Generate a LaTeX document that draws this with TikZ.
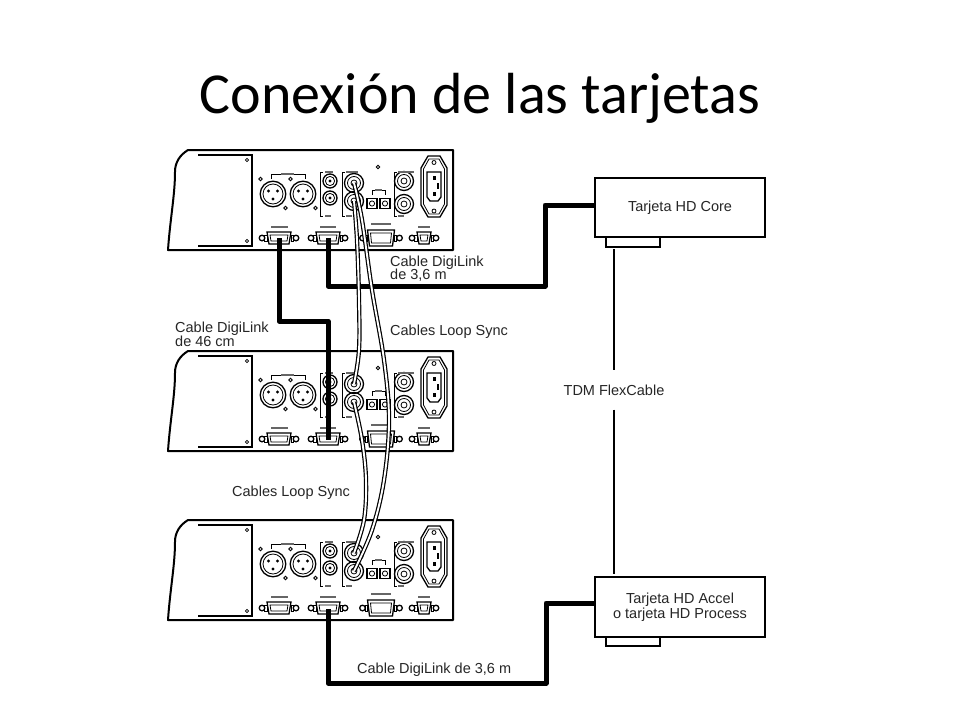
\documentclass[tikz,border=0pt]{standalone}
\usepackage{fontspec}
\setmainfont{Liberation Sans}
\newfontfamily\titlefont{Carlito}
\usetikzlibrary{shapes.geometric}
\newcommand\lblfont{\fontsize{14.5}{15}\selectfont}
\tikzset{
  chassis/.style={line width=2pt, line join=round},
  thinpart/.style={line width=1.3pt},
  hairpart/.style={line width=0.8pt},
  tinylabel/.style={fill=black!60},
  digi/.style={line width=5pt, line join=round},
  loopcable/.style={draw=black, double=white, line width=1.2pt, double distance=1.9pt},
  card/.style={draw, line width=2.4pt, minimum width=170pt, minimum height=59pt, align=center, font=\lblfont, inner sep=0pt, text=black!85},
  cardtab/.style={line width=1.4pt},
  tdmline/.style={line width=2.8pt},
  lbl/.style={font=\lblfont, inner sep=0pt, text=black!85}
}
\newcommand\dbport[4]{%
  \draw[thinpart] (#1-#2,#3) -- (#1+#2,#3) -- (#1+#2-2,#4) -- (#1-#2+2,#4) -- cycle;
  \draw[hairpart] (#1-#2+3,#3+3) -- (#1+#2-3,#3+3) -- (#1+#2-4,#4-3) -- (#1-#2+4,#4-3) -- cycle;
  \draw[thinpart] (#1-#2-5,{(#3+#4)/2}) circle (2.8) (#1+#2+5,{(#3+#4)/2}) circle (2.8);
  \draw[hairpart] (#1-#2-2.2,{(#3+#4)/2-3}) rectangle (#1-#2,{(#3+#4)/2+3});
  \draw[hairpart] (#1+#2,{(#3+#4)/2-3}) rectangle (#1+#2+2.2,{(#3+#4)/2+3});
}
\newcommand\devpanel[1]{%
\begin{scope}[shift={(0,#1)}]
  % chassis outline
  \draw[chassis] (168,100) .. controls (170,70) and (175,45) .. (175,22)
     .. controls (175,12) and (180,5) .. (188,0) -- (453,0) -- (453,100) -- cycle;
  % blank panel
  \draw[thinpart] (198,5) -- (252,5) -- (252,96) -- (198,96);
  \draw[hairpart] (247,10) circle (1.6) (247,91) circle (1.6);
  % XLR
  \foreach \x in {273,303} {
    \draw[thinpart] (\x,44) circle (12.8);
    \draw[hairpart] (\x,44) circle (10);
    \fill (\x-4.5,41) circle (1.6) (\x+4.5,41) circle (1.6) (\x,49) circle (1.6);
    \draw[hairpart] (\x-12.5,29) circle (1.8) (\x+12.5,58) circle (1.8);
  }
  \draw[hairpart] (271,29) -- (271,24) -- (305,24) -- (305,29);
  \fill[tinylabel] (281,22.6) rectangle (294,25.4);
  % RCA S/PDIF
  \foreach \yy in {31,48} {
    \draw[thinpart] (330,\yy) circle (7);
    \draw[hairpart] (330,\yy) circle (4.6);
    \fill (330,\yy) circle (1.6);
  }
  \draw[hairpart] (323,22) -- (320,22) -- (320,66) -- (323,66);
  \fill[tinylabel] (325,20.6) rectangle (333,23.4);
  \fill[tinylabel] (325,64.6) rectangle (331,67.4);
  % Loop sync BNC
  \foreach \yy in {33,51} {
    \draw[thinpart] (354,\yy) circle (9.5);
    \draw[hairpart] (354,\yy) circle (6.5);
    \draw[hairpart] (354,\yy) circle (3);
  }
  \draw[hairpart] (345,22) -- (342,22) -- (342,66) -- (345,66);
  \fill[tinylabel] (346,20.6) rectangle (358,23.4);
  \fill[tinylabel] (346,64.6) rectangle (352,67.4);
  \draw[hairpart] (378,17) circle (1.8);
  % optical
  \foreach \x in {372,385} {
    \draw[thinpart] (\x-5,48.5) rectangle (\x+5,58.5);
    \draw[hairpart] (\x,53.5) circle (2.6);
  }
  \draw[hairpart] (372,45) -- (372,40) -- (385,40) -- (385,45);
  \fill[tinylabel] (375,38.6) rectangle (382,41.4);
  % word clock BNC
  \foreach \yy in {31,54} {
    \draw[thinpart] (404,\yy) circle (9.5);
    \draw[hairpart] (404,\yy) circle (6.5);
    \draw[hairpart] (404,\yy) circle (3);
  }
  \draw[hairpart] (397,22) -- (394,22) -- (394,66) -- (397,66);
  \fill[tinylabel] (398,20.6) rectangle (414,23.4);
  \fill[tinylabel] (398,64.6) rectangle (404,67.4);
  % power inlet
  \draw[thinpart] (421,18) -- (428,6) -- (440,6) -- (447,18) -- (447,55) -- (440,67) -- (428,67) -- (421,55) -- cycle;
  \draw[hairpart] (423.5,19) -- (429,9) -- (439,9) -- (444.5,19) -- (444.5,54) -- (439,64) -- (429,64) -- (423.5,54) -- cycle;
  \draw[thinpart] (427,22) -- (441,22) -- (441,47) -- (438,51) -- (430,51) -- (427,47) -- cycle;
  \fill (432.5,26) rectangle (435.5,30);
  \fill (436.5,33) rectangle (439,39);
  \fill (432.5,42) rectangle (435.5,46);
  \draw[hairpart] (434,12.5) circle (2) (434,61) circle (2);
  % D-sub ports
  \dbport{279}{12}{82}{94}
  \dbport{328}{12}{82}{94}
  \dbport{381}{13.5}{80}{96}
  \dbport{424}{7}{82}{94}
  \fill[tinylabel] (271,75.6) rectangle (288,78.4);
  \fill[tinylabel] (320,75.6) rectangle (336,78.4);
  \fill[tinylabel] (371,72.6) rectangle (391,75.4);
  \fill[tinylabel] (418,75.6) rectangle (430,78.4);
\end{scope}}
\begin{document}
\begin{tikzpicture}[x=1pt,y=-1pt]
  \useasboundingbox (0,0) rectangle (960,720);
  \fill[white] (0,0) rectangle (960,720);
  % title
  \node[font=\titlefont\fontsize{58}{60}\selectfont, anchor=base, inner sep=0pt] (title) at (480,113) {Conexión de las tarjetas};
  % devices
  \devpanel{150}
  \devpanel{351}
  \devpanel{520}
  % cards
  \node[card] (core) at (680,207.5) {Tarjeta HD Core};
  \draw[cardtab] (606,237) rectangle (660,247);
  \node[card, minimum height=60pt] (accel) at (680,607) {Tarjeta HD Accel\\o tarjeta HD Process};
  \draw[cardtab] (606,637) rectangle (660,646);
  % TDM FlexCable
  \node[lbl, inner xsep=2pt, inner ysep=14pt] (tdm) at (614,390) {TDM FlexCable};
  \coordinate (tdmtop) at (614,249);
  \coordinate (tdmbot) at (614,574);
  \draw[tdmline] (tdmtop) -- (tdm);
  \draw[tdmline] (tdm) -- (tdmbot);
  % port coordinates
  \coordinate (exp1) at (279,238);
  \coordinate (prim1) at (328,238);
  \coordinate (prim2) at (328,440);
  \coordinate (prim3) at (328,609);
  % DigiLink cables
  \draw[digi] (prim1) -- (328,286) -- (545,286) -- (545,205) -- (core.west |- 0,205);
  \draw[digi] (exp1) -- (279,321) -- (328,321) -- (prim2);
  \draw[digi] (prim3) -- (328,683) -- (546,683) -- (546,603) -- (accel.west |- 0,603);
  % Loop sync cables
  \coordinate (l1o) at (354,183);
  \coordinate (l1i) at (354,201);
  \coordinate (l2o) at (354,384);
  \coordinate (l2i) at (354,402);
  \coordinate (l3o) at (354,553);
  \coordinate (l3i) at (354,571);
  \draw[loopcable] plot[smooth, tension=0.6] coordinates {(l1o) (362,220) (372,290) (384,360) (389,420) (384,480) (372,530) (l3i)};
  \draw[loopcable] plot[smooth, tension=0.6] coordinates {(l1i) (357,240) (359,300) (359,350) (l2o)};
  \draw[loopcable] plot[smooth, tension=0.6] coordinates {(l2i) (362,440) (366,480) (364,520) (l3o)};
  % labels
  \node[lbl, anchor=base west] (lblA1) at (390,266) {Cable DigiLink};
  \node[lbl, anchor=base west] (lblA2) at (390,279.5) {de 3,6 m};
  \node[lbl, anchor=base west] (lblB1) at (175,332.5) {Cable DigiLink};
  \node[lbl, anchor=base west] (lblB2) at (175,346) {de 46 cm};
  \node[lbl, anchor=base west] (lblC) at (390,335) {Cables Loop Sync};
  \node[lbl, anchor=base west] (lblD) at (232,496) {Cables Loop Sync};
  \node[lbl, anchor=base west] (lblE) at (357,673) {Cable DigiLink de 3,6 m};
\end{tikzpicture}
\end{document}
